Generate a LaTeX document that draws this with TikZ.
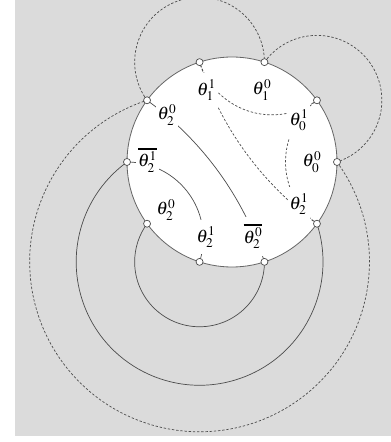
\documentclass[tikz,border=0pt]{standalone}
\usepackage{mathptmx}
\newcommand{\thickbar}[1]{\vbox{\hrule height 1.6pt\kern1.8pt\hbox{$#1$}}}
\begin{document}
\begin{tikzpicture}[x=1pt, y=1pt,
    line/.style={draw=black!70, line width=0.7pt},
    dline/.style={line, dash pattern=on 2.4pt off 1.8pt},
    vmark/.style={circle, draw=black!70, fill=white, line width=0.7pt, minimum size=7pt, inner sep=0pt},
    lab/.style={fill=white, inner xsep=2pt, inner ysep=7pt, font=\fontsize{18}{21}\selectfont}]
    \useasboundingbox (0,0) rectangle (391,442);
    \fill[black!14] (15,6) rectangle (391,442);

    % disc and its ten boundary points
    \coordinate (o) at (232,280);
    \filldraw[fill=white, draw=black!60, line width=0.8pt] (o) circle[radius=105];
    \foreach \i in {0,...,9}
        \path (o) ++(\i*36:105) coordinate (p\i);

    % outer arcs
    \draw[dline] (p4) arc[start angle=216, end angle=0, radius=64.9];
    \draw[dline] (p2) arc[start angle=144, end angle=-72, radius=64.9];
    \draw[dline] (p0) arc[start angle=36, end angle=-252, radius=169.9];
    \draw[line] (p9) arc[start angle=18, end angle=-234, radius=123.4];
    \draw[line] (p8) arc[start angle=0, end angle=-216, radius=64.9];

    % geodesics inside the disc
    \draw[line] (p4) arc[start angle=54, end angle=18, radius=323.16];
    \draw[line] (p5) arc[start angle=90, end angle=-18, radius=76.29];
    \draw[dline] (p1) arc[start angle=-54, end angle=-162, radius=76.29];
    \draw[dline] (p9) arc[start angle=-126, end angle=-162, radius=323.16];
    \draw[dline] (p9) arc[start angle=-126, end angle=-234, radius=76.29];

    % labels
    \node[lab] (t11) at (206.5,352) {$\theta_1^1$};
    \node[lab] (t10) at (262,352) {$\theta_1^0$};
    \node[lab] (t20a) at (167,327) {$\theta_2^0$};
    \node[lab] (t01) at (299,321.5) {$\theta_0^1$};
    \node[lab] (t21bar) at (147.5,282) {$\thickbar{\theta_2^1}$};
    \node[lab] (t00) at (312,280) {$\theta_0^0$};
    \node[lab] (t20b) at (166,232) {$\theta_2^0$};
    \node[lab] (t21a) at (299,238) {$\theta_2^1$};
    \node[lab] (t21b) at (206,205) {$\theta_2^1$};
    \node[lab] (t20bar) at (253,205.5) {$\thickbar{\theta_2^0}$};

    % boundary points on top
    \foreach \i in {0,...,9}
        \node[vmark] (v\i) at (p\i) {};
\end{tikzpicture}
\end{document}
